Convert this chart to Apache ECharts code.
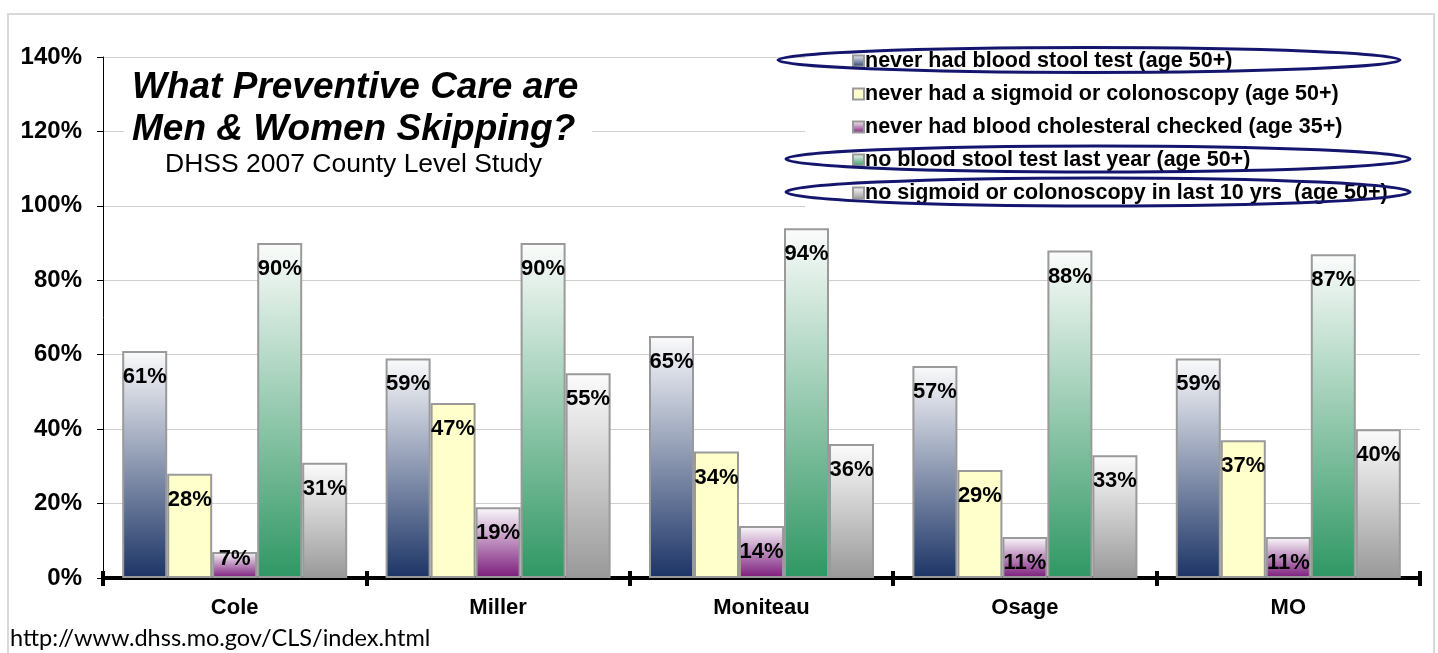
<!DOCTYPE html>
<html>
<head>
<meta charset="utf-8">
<script src="https://cdn.jsdelivr.net/npm/echarts@6/dist/echarts.min.js"></script>
<style>
  html, body { margin: 0; padding: 0; background: #fff; }
  #chart { width: 1438px; height: 653px; }
</style>
</head>
<body>
<div id="chart"></div>
<script>
// ==================== data
const counties = ['Cole', 'Miller', 'Moniteau', 'Osage', 'MO'];
const seriesNames = [
  'never had blood stool test (age 50+)',
  'never had a sigmoid or colonoscopy (age 50+)',
  'never had blood cholesteral checked (age 35+)',
  'no blood stool test last year (age 50+)',
  'no sigmoid or colonoscopy in last 10 yrs  (age 50+)',
];
const neverStool = [61, 59, 65, 57, 59];
const neverSigmoid = [28, 47, 34, 29, 37];
const neverCholesterol = [7, 19, 14, 11, 11];
const noStoolLastYear = [90, 90, 94, 88, 87];
const noSigmoid10yrs = [31, 55, 36, 33, 40];
const yTicks = [0, 20, 40, 60, 80, 100, 120, 140];

const FONT = 'Liberation Sans, Arial, sans-serif';

const grad = (top, bottom) => ({
  type: 'linear', x: 0, y: 0, x2: 0, y2: 1,
  colorStops: [{ offset: 0, color: top }, { offset: 1, color: bottom }],
});

const fills = [
  grad('#fbfbfc', '#1c3466'),
  '#ffffcc',
  grad('#fbfafc', '#7b1b7b'),
  grad('#fbfcfb', '#2f9763'),
  grad('#fcfcfc', '#999999'),
];

// short bars get their label pushed down so it stays near the axis
const toItems = values => values.map((v) => {
  if (v < 10) {
    return { value: v, label: { position: 'insideBottom', distance: 8 } };
  }
  return v;
});

const allValues = [neverStool, neverSigmoid, neverCholesterol, noStoolLastYear, noSigmoid10yrs];

const series = allValues.map((values, i) => ({
  name: seriesNames[i],
  type: 'bar',
  barWidth: 45,
  barGap: '0%',
  itemStyle: {
    color: fills[i],
    borderColor: '#9a9a9a',
    borderWidth: 2,
  },
  label: {
    show: true,
    position: 'insideTop',
    distance: 15,
    formatter: '{c}%',
    color: '#000',
    fontFamily: FONT,
    fontWeight: 'bold',
    fontSize: 22,
  },
  data: toItems(values),
}));

const chart = echarts.init(document.getElementById('chart'));

const tickStyle = { color: '#000', width: 4 };

const option = {
  animation: false,
  backgroundColor: '#fff',
  grid: {
    left: 103,
    right: 18,
    top: 57,
    bottom: 75,
  },
  legend: {
    orient: 'vertical',
    left: 805,
    top: 46,
    padding: [4, 38, 4, 47],
    backgroundColor: '#fff',
    itemWidth: 11,
    itemHeight: 11,
    itemGap: 11,
    icon: 'rect',
    textStyle: {
      fontFamily: FONT,
      fontWeight: 'bold',
      fontSize: 21.5,
      lineHeight: 21,
      color: '#000',
      padding: [0, 0, 0, -4],
    },
    data: seriesNames,
  },
  xAxis: [{
    type: 'category',
    data: counties,
    axisLine: {
      lineStyle: { color: '#000', width: 4 },
    },
    axisTick: {
      show: true,
      length: 8,
      lineStyle: tickStyle,
    },
    axisLabel: {
      margin: 19,
      color: '#000',
      fontFamily: FONT,
      fontWeight: 'bold',
      fontSize: 22,
    },
  }, {
    // only there to draw the upper half of the crossing ticks
    type: 'category',
    data: counties,
    position: 'bottom',
    axisLine: { show: false },
    axisTick: {
      show: true,
      inside: true,
      length: 7,
      lineStyle: tickStyle,
    },
    axisLabel: { show: false },
  }],
  yAxis: {
    type: 'value',
    min: yTicks[0],
    max: yTicks[yTicks.length - 1],
    interval: 20,
    axisLine: {
      show: true,
      lineStyle: { color: '#000', width: 1 },
    },
    axisTick: {
      show: true,
      length: 6,
      lineStyle: { color: '#000' },
    },
    axisLabel: {
      margin: 21,
      formatter: '{value}%',
      color: '#000',
      fontFamily: FONT,
      fontWeight: 'bold',
      fontSize: 24,
    },
    splitLine: {
      lineStyle: { color: '#cfcfcf', width: 1 },
    },
  },
  graphic: [
    {
      type: 'rect',
      z: 0,
      silent: true,
      shape: { x: 8, y: 14, width: 1426, height: 660 },
      style: { fill: 'none', stroke: '#d9d9d9', lineWidth: 2 },
    },
    {
      type: 'rect',
      z: 5,
      silent: true,
      shape: { x: 124, y: 66, width: 468, height: 118 },
      style: { fill: '#fff' },
    },
    {
      type: 'text',
      z: 6,
      left: 357 - 225,
      top: 67,
      silent: true,
      style: {
        text: 'What Preventive Care are\nMen & Women Skipping?',
        x: 225,
        align: 'center',
        fill: '#000',
        font: 'italic bold 37px ' + FONT,
        lineHeight: 42,
      },
    },
    {
      type: 'text',
      z: 6,
      left: 165,
      top: 151,
      silent: true,
      style: {
        text: 'DHSS 2007 County Level Study',
        fill: '#000',
        font: '26.5px ' + FONT,
      },
    },
    {
      type: 'text',
      z: 6,
      left: 10,
      top: 626,
      silent: true,
      style: {
        text: 'http://www.dhss.mo.gov/CLS/index.html',
        fill: '#000',
        font: '23.5px Lato, "Noto Sans", sans-serif',
      },
    },
    {
      type: 'ellipse',
      z: 10,
      silent: true,
      shape: { cx: 1089, cy: 60, rx: 311, ry: 12.5 },
      style: { fill: 'none', stroke: '#14166e', lineWidth: 3 },
    },
    {
      type: 'ellipse',
      z: 10,
      silent: true,
      shape: { cx: 1098, cy: 159, rx: 312, ry: 13 },
      style: { fill: 'none', stroke: '#14166e', lineWidth: 3 },
    },
    {
      type: 'ellipse',
      z: 10,
      silent: true,
      shape: { cx: 1098, cy: 192, rx: 312, ry: 14 },
      style: { fill: 'none', stroke: '#14166e', lineWidth: 3 },
    },
  ],
  series,
};

chart.setOption(option);
</script>
</body>
</html>
